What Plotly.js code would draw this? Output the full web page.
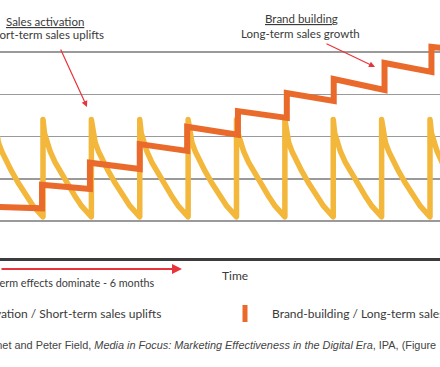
<!DOCTYPE html>
<html><head><meta charset="utf-8">
<script src="https://cdn.plot.ly/plotly-3.0.1.min.js"></script>
<style>
html,body{margin:0;padding:0;background:#fff;}
#chart{width:440px;height:367px;}
.scatterlayer .trace:first-child .js-line{stroke-linejoin:round;stroke-linecap:round;}
</style>
</head><body><div id="chart"></div>
<script>
// Sales activation: short-term uplifts (sawtooth)
const activationX = [
 0,0.03,0.08,0.15,0.25,0.35,0.5,0.65,0.8,1,
 1,1.03,1.08,1.15,1.25,1.35,1.5,1.65,1.8,2,
 2,2.03,2.08,2.15,2.25,2.35,2.5,2.65,2.8,3,
 3,3.03,3.08,3.15,3.25,3.35,3.5,3.65,3.8,4,
 4,4.03,4.08,4.15,4.25,4.35,4.5,4.65,4.8,5,
 5,5.03,5.08,5.15,5.25,5.35,5.5,5.65,5.8,6,
 6,6.03,6.08,6.15,6.25,6.35,6.5,6.65,6.8,7,
 7,7.03,7.08,7.15,7.25,7.35,7.5,7.65,7.8,8,
 8,8.03,8.08,8.15,8.25,8.35,8.5,8.65,8.8,9,
 9,9.03,9.08,9.15,9.25,9.35,9.5,9.65,9.8,10
];
const activationY = [
 3.40,3.08,2.85,2.64,2.39,2.18,1.88,1.61,1.35,1.10,
 3.40,3.08,2.85,2.64,2.39,2.18,1.88,1.61,1.35,1.10,
 3.40,3.08,2.85,2.64,2.39,2.18,1.88,1.61,1.35,1.10,
 3.40,3.08,2.85,2.64,2.39,2.18,1.88,1.61,1.35,1.10,
 3.40,3.08,2.85,2.64,2.39,2.18,1.88,1.61,1.35,1.10,
 3.40,3.08,2.85,2.64,2.39,2.18,1.88,1.61,1.35,1.10,
 3.40,3.08,2.85,2.64,2.39,2.18,1.88,1.61,1.35,1.10,
 3.40,3.08,2.85,2.64,2.39,2.18,1.88,1.61,1.35,1.10,
 3.40,3.08,2.85,2.64,2.39,2.18,1.88,1.61,1.35,1.10,
 3.40,3.08,2.85,2.64,2.39,2.18,1.88,1.61,1.35,1.10
];
// Brand building: long-term growth (staircase)
const brandX = [0.1,0.98,0.98,1.97,1.97,3.0,3.0,3.98,3.98,5.03,5.03,6.04,6.04,7.01,7.01,8.06,8.06,9.03,9.03,9.3];
const brandY = [1.33,1.30,1.86,1.76,2.38,2.23,2.82,2.66,3.23,3.04,3.60,3.44,4.03,3.84,4.36,4.10,4.74,4.53,5.12,5.09];
const gridVals = [1,2,3,4,5];

const labels = {
  actTitle: 'Sales activation',
  actSub: 'Short-term sales uplifts',
  brandTitle: 'Brand building',
  brandSub: 'Long-term sales growth',
  shortNote: 'Short-term effects dominate - 6 months',
  timeLabel: 'Time',
  legAct: 'Sales activation / Short-term sales uplifts',
  legBrand: 'Brand-building / Long-term sales growth',
  source: 'Les Binet and Peter Field, <i>Media in Focus: Marketing Effectiveness in the Digital Era</i>, IPA, (Figure'
};

const W = 440, PB = 258;
const px = x => x / W;
const py = y => (PB - y) / PB;
const font = 'Lato, "Open Sans", sans-serif';
const txt = '#3a3a3a';
const red = '#e8343b';
const orange = '#e96a2b';
const yellow = '#f3b73b';

const traces = [
  {x: activationX, y: activationY, mode: 'lines', line: {color: yellow, width: 5.5}, hoverinfo: 'skip'},
  {x: brandX, y: brandY, mode: 'lines', line: {color: orange, width: 6}, hoverinfo: 'skip'}
];

function note(text, x, y, size, anchor, extra) {
  return Object.assign({text: text, xref: 'paper', yref: 'paper', x: px(x), y: py(y),
    xanchor: anchor || 'center', yanchor: 'middle', showarrow: false,
    font: {family: font, size: size, color: txt}}, extra || {});
}
function arrow(hx, hy, tx, ty, w, head) {
  return {text: '', xref: 'paper', yref: 'paper', x: px(hx), y: py(hy),
    ax: tx - hx, ay: ty - hy, showarrow: true, arrowcolor: red, arrowwidth: w,
    arrowhead: head, arrowsize: 1};
}

const layout = {
  width: 440, height: 367,
  margin: {l: 0, r: 0, t: 0, b: 109, pad: 0},
  paper_bgcolor: '#fff', plot_bgcolor: '#fff',
  showlegend: false,
  xaxis: {range: [0.1111, 9.2067], showgrid: false, zeroline: false, showticklabels: false,
          ticks: '', showline: true, linecolor: '#3c3c3c', linewidth: 3},
  yaxis: {range: [0.1243, 6.2308], tickvals: gridVals, showgrid: true, gridcolor: '#9a9a9a',
          gridwidth: 1.5, zeroline: false, showticklabels: false, ticks: '', showline: false},
  annotations: [
    note('<u>' + labels.actTitle + '</u>', 45, 21, 11.5),
    note(labels.actSub, 45, 34, 11.5),
    note('<u>' + labels.brandTitle + '</u>', 301, 18, 11.5),
    note(labels.brandSub, 300, 33, 11.5),
    arrow(87, 107, 60, 48, 1.2, 2),
    arrow(375, 67, 325, 43, 1.2, 2),
    arrow(182, 269, -10, 269, 2, 2),
    note(labels.shortNote, 157, 282, 10.8, 'right'),
    note(labels.timeLabel, 235, 275, 12),
    note(labels.legAct, 163, 313, 12, 'right'),
    note(labels.legBrand, 270, 313, 12, 'left'),
    note(labels.source, 438, 345, 10.9, 'right', {font: {family: '"Liberation Sans", Arial, sans-serif', size: 10.9, color: '#444'}})
  ],
  shapes: [
    {type: 'line', xref: 'paper', yref: 'paper', x0: px(245), x1: px(245), y0: py(305), y1: py(322),
     line: {color: orange, width: 5}}
  ]
};

Plotly.newPlot('chart', traces, layout, {staticPlot: true, displayModeBar: false});
</script>
</body></html>
